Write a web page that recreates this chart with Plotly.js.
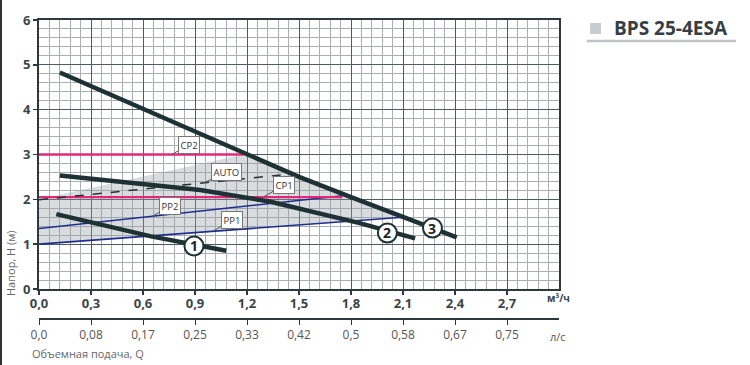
<!DOCTYPE html>
<html>
<head>
<meta charset="utf-8">
<script src="https://cdn.plot.ly/plotly-3.0.1.min.js"></script>
<style>html,body{margin:0;padding:0;background:#fff;}#chart{width:750px;height:365px;}</style>
</head>
<body>
<div id="chart"></div>
<script>
// ---- data ----
const qTickVals = [0, 0.3, 0.6, 0.9, 1.2, 1.5, 1.8, 2.1, 2.4, 2.7];
const qTickText = ['0,0','0,3','0,6','0,9','1,2','1,5','1,8','2,1','2,4','2,7'];
const lsTickText = ['0,0','0,08','0,17','0,25','0,33','0,42','0,5','0,58','0,67','0,75'];

const curve1Q = [0.10, 0.64, 1.08];
const curve1H = [1.67, 1.18, 0.855];
const curve2Q = [0.12, 0.64, 0.93, 1.33, 1.85, 2.17];
const curve2H = [2.53, 2.32, 2.21, 1.95, 1.47, 1.13];
const curve3Q = [0.12, 0.60, 1.20, 1.50, 1.80, 2.10, 2.41];
const curve3H = [4.83, 4.02, 3.00, 2.50, 2.05, 1.62, 1.15];

const cp2Q = [0, 1.18];  const cp2H = [3.0, 3.0];
const cp1Q = [0, 1.75];  const cp1H = [2.05, 2.05];
const autoQ = [0, 1.41]; const autoH = [1.99, 2.55];
const pp2Q = [0, 1.75];  const pp2H = [1.35, 2.08];
const pp1Q = [0, 2.10];  const pp1H = [1.00, 1.60];

const regionQ = [0, 2.10, 1.80, 1.50, 1.18, 0, 0];
const regionH = [1.00, 1.60, 2.05, 2.50, 3.00, 2.00, 1.00];

// ---- styles ----
const dark = '#1e3235';
const magenta = '#e3287c';
const navy = '#1f2d8c';
const txt = '#3a4549';

const traces = [
  {x: regionQ, y: regionH, mode: 'lines', fill: 'toself', fillcolor: 'rgba(150,157,165,0.36)', line: {width: 0}, hoverinfo: 'skip'},
  {x: pp1Q, y: pp1H, mode: 'lines', line: {color: navy, width: 1.6}},
  {x: pp2Q, y: pp2H, mode: 'lines', line: {color: navy, width: 1.6}},
  {x: cp1Q, y: cp1H, mode: 'lines', line: {color: magenta, width: 2.4}},
  {x: cp2Q, y: cp2H, mode: 'lines', line: {color: magenta, width: 2.4}},
  {x: autoQ, y: autoH, mode: 'lines', line: {color: '#263033', width: 1.5, dash: 'dash'}},
  {x: curve1Q, y: curve1H, mode: 'lines', line: {color: dark, width: 4.5}},
  {x: curve2Q, y: curve2H, mode: 'lines', line: {color: dark, width: 4.5}},
  {x: curve3Q, y: curve3H, mode: 'lines', line: {color: dark, width: 4.5}},
  {x: [0], y: [null], xaxis: 'x2', mode: 'lines', hoverinfo: 'skip'}
];

const pW = 520, pH = 299, L = 39, T = 20;
const px = v => (v - L) / pW;
const py = v => (T + pH - v) / pH;

function tag(text, x, y, ax, ay) {
  return {x: x, y: y, xref: 'x', yref: 'y', text: text, showarrow: true, arrowhead: 0,
    arrowwidth: 1, arrowcolor: '#555', ax: ax, ay: ay, bgcolor: '#fff', bordercolor: '#777',
    borderwidth: 1, borderpad: 1.5, font: {family: 'Open Sans, sans-serif', size: 9.5, color: '#333'}};
}
function circ(x, y) {
  return {type: 'circle', xref: 'x', yref: 'y', xsizemode: 'pixel', ysizemode: 'pixel',
    xanchor: x, yanchor: y, x0: -9.5, x1: 9.5, y0: -9.5, y1: 9.5,
    fillcolor: '#fff', line: {color: dark, width: 2}};
}
function num(text, x, y) {
  return {x: x, y: y, xref: 'x', yref: 'y', text: text, showarrow: false,
    font: {family: 'Open Sans, sans-serif', size: 14, color: '#222'}};
}

const layout = {
  width: 750, height: 365,
  margin: {l: L, r: 750 - L - pW, t: T, b: 365 - T - pH, pad: 0},
  paper_bgcolor: '#fff', plot_bgcolor: '#fff',
  showlegend: false,
  separators: ', ',
  font: {family: 'Open Sans, sans-serif', color: txt},
  xaxis: {
    range: [0, 3], tickmode: 'array', tickvals: qTickVals, ticktext: qTickText,
    showgrid: true, gridcolor: '#4d5c60', gridwidth: 1,
    minor: {tick0: 0, dtick: 0.06, showgrid: true, gridcolor: '#a9aeb1', gridwidth: 1},
    showline: true, linecolor: '#2c3a3d', linewidth: 2, mirror: true,
    ticks: 'outside', ticklen: 4, tickcolor: '#2c3a3d', tickwidth: 1.5,
    ticklabelstandoff: -3,
    tickfont: {family: 'Open Sans, sans-serif', size: 13, color: txt, weight: 'bold'},
    zeroline: false, fixedrange: true
  },
  xaxis2: {
    overlaying: 'x', anchor: 'free', position: 0, side: 'bottom',
    range: [0, 3], tickmode: 'array', tickvals: qTickVals, ticktext: lsTickText,
    showgrid: false, showline: true, linecolor: '#2c3a3d', linewidth: 2,
    ticks: 'outside', ticklen: 5, tickcolor: '#2c3a3d', tickwidth: 1,
    tickfont: {family: 'Open Sans, sans-serif', size: 12, color: '#555'},
    zeroline: false, fixedrange: true
  },
  yaxis: {
    domain: [(319 - 289) / pH, 1],
    range: [0, 6], dtick: 1, tick0: 0,
    showgrid: true, gridcolor: '#4d5c60', gridwidth: 1,
    minor: {tick0: 0, dtick: 0.2, showgrid: true, gridcolor: '#a9aeb1', gridwidth: 1},
    showline: true, linecolor: '#2c3a3d', linewidth: 2, mirror: true,
    ticks: 'outside', ticklen: 4, tickcolor: '#2c3a3d', tickwidth: 1.5,
    tickfont: {family: 'Open Sans, sans-serif', size: 13, color: txt, weight: 'bold'},
    zeroline: false, fixedrange: true
  },
  shapes: [
    circ(0.894, 0.96), circ(2.01, 1.25), circ(2.27, 1.36),
    {type: 'rect', xref: 'paper', yref: 'paper', x0: px(590), x1: px(601), y0: py(34), y1: py(23),
      fillcolor: '#c7ccd1', line: {width: 0}},
    {type: 'line', xref: 'paper', yref: 'paper', x0: px(587), x1: px(736), y0: py(41), y1: py(41),
      line: {color: '#c0c4c8', width: 2.5}},
    {type: 'line', xref: 'paper', yref: 'paper', x0: px(1), x1: px(1), y0: py(365), y1: py(0),
      line: {color: '#333', width: 2}}
  ],
  annotations: [
    tag('CP2', 0.767, 3.0, 17, -10),
    tag('AUTO', 0.946, 2.36, 24, -11),
    tag('CP1', 1.293, 2.05, 21, -12),
    tag('PP2', 0.652, 1.62, 18, -10),
    tag('PP1', 1.004, 1.29, 19, -11),
    num('<b>1</b>', 0.894, 0.96), num('<b>2</b>', 2.01, 1.25), num('<b>3</b>', 2.27, 1.36),
    {xref: 'paper', yref: 'paper', x: px(612), y: py(28), xanchor: 'left', yanchor: 'middle', showarrow: false,
      text: '<b>BPS 25-4ESA</b>', font: {family: 'Open Sans, sans-serif', size: 19, color: '#344044'}},
    {xref: 'paper', yref: 'paper', x: px(545), y: py(298), xanchor: 'left', yanchor: 'middle', showarrow: false,
      text: '<b>м³/ч</b>', font: {family: 'Open Sans, sans-serif', size: 10, color: txt}},
    {xref: 'paper', yref: 'paper', x: px(548), y: py(336), xanchor: 'left', yanchor: 'middle', showarrow: false,
      text: 'л/с', font: {family: 'Open Sans, sans-serif', size: 11, color: '#555'}},
    {xref: 'paper', yref: 'paper', x: px(30), y: py(353), xanchor: 'left', yanchor: 'middle', showarrow: false,
      text: 'Объемная подача, Q', font: {family: 'Open Sans, sans-serif', size: 11, color: '#666'}},
    {xref: 'paper', yref: 'paper', x: px(10), y: py(263), xanchor: 'center', yanchor: 'middle', showarrow: false,
      textangle: -90, text: 'Напор, H (м)', font: {family: 'Open Sans, sans-serif', size: 11, color: '#666'}}
  ]
};

Plotly.newPlot('chart', traces, layout, {staticPlot: true, displayModeBar: false});
</script>
</body>
</html>
